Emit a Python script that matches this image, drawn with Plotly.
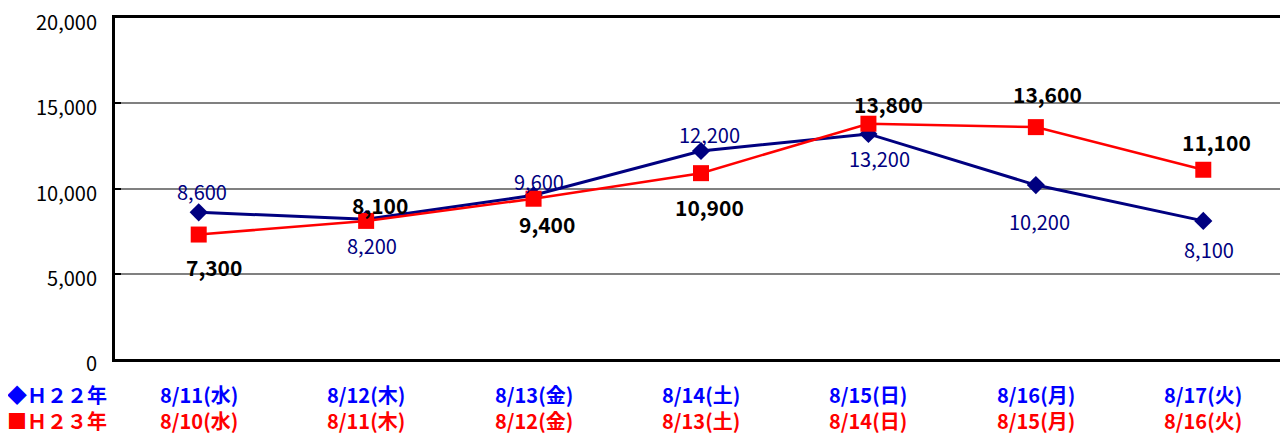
import plotly.graph_objects as go

# Data
h22_dates = ["8/11(水)", "8/12(木)", "8/13(金)", "8/14(土)", "8/15(日)", "8/16(月)", "8/17(火)"]
h23_dates = ["8/10(水)", "8/11(木)", "8/12(金)", "8/13(土)", "8/14(日)", "8/15(月)", "8/16(火)"]
h22_values = [8600, 8200, 9600, 12200, 13200, 10200, 8100]
h23_values = [7300, 8100, 9400, 10900, 13800, 13600, 11100]
h22_name = "◆Ｈ２２年"
h23_name = "■Ｈ２３年"
y_ticks = [0, 5000, 10000, 15000, 20000]

# label offsets (style only)
h22_label_shift = [(3, 21), (6, -26), (5, 14), (8, 16), (11, -25), (4, -36), (6, -29)]
h23_label_shift = [(15, -32), (14, 16), (13, -25), (8, -34), (20, 20), (12, 33), (13, 28)]

FONT = "Noto Sans CJK JP"
NAVY = "#000080"
RED = "#FF0000"
BLUE = "#0000FF"

xs = list(range(len(h22_dates)))

fig = go.Figure()
fig.add_trace(go.Scatter(
    x=xs, y=h22_values, mode="lines+markers", name=h22_name,
    line=dict(color=NAVY, width=3),
    marker=dict(symbol="diamond", size=14, color=NAVY),
))
fig.add_trace(go.Scatter(
    x=xs, y=h23_values, mode="lines+markers", name=h23_name,
    line=dict(color=RED, width=2.5),
    marker=dict(symbol="square", size=16, color=RED),
))

annotations = []
for i, v in enumerate(h22_values):
    dx, dy = h22_label_shift[i]
    annotations.append(dict(x=xs[i], y=v, xref="x", yref="y", text=f"{v:,}",
                            showarrow=False, xanchor="center", yanchor="middle",
                            xshift=dx, yshift=dy, borderpad=0,
                            font=dict(family=FONT, size=20, color=NAVY)))
for i, v in enumerate(h23_values):
    dx, dy = h23_label_shift[i]
    annotations.append(dict(x=xs[i], y=v, xref="x", yref="y", text=f"<b>{v:,}</b>",
                            showarrow=False, xanchor="center", yanchor="middle",
                            xshift=dx, yshift=dy, borderpad=0,
                            font=dict(family=FONT, size=21, color="#000000")))


def two_rows(top, bottom):
    return (f"<span style='color:{BLUE}'><b>{top}</b></span><br>"
            f"<span style='color:{RED}'><b>{bottom}</b></span>")


for i in xs:
    annotations.append(dict(x=i, y=0, xref="x", yref="paper", text=two_rows(h22_dates[i], h23_dates[i]),
                            showarrow=False, xanchor="center", yanchor="middle", yshift=-48,
                            align="center", borderpad=0, font=dict(family=FONT, size=20)))

annotations.append(dict(x=0, y=0, xref="paper", yref="paper", text=two_rows(h22_name, h23_name),
                        showarrow=False, xanchor="left", yanchor="middle", xshift=-109, yshift=-48,
                        align="left", borderpad=0, font=dict(family=FONT, size=20)))

# page has an 8px body margin, so the figure is offset by 8px
fig.update_layout(
    width=1280, height=426,
    margin=dict(l=107, r=1, t=10, b=75),
    paper_bgcolor="white", plot_bgcolor="white",
    showlegend=False,
    annotations=annotations,
    shapes=[dict(type="line", xref="paper", yref="paper", x0=1, x1=1, y0=0, y1=1,
                 line=dict(color="#404040", width=2))],
    xaxis=dict(range=[-0.5, len(xs) - 0.5], showticklabels=False, showgrid=False,
               zeroline=False, showline=True, linecolor="black", linewidth=3,
               mirror=True, ticks="", automargin=False),
    yaxis=dict(range=[0, 20000], tickvals=y_ticks, tickformat=",d",
               showgrid=True, gridcolor="#808080", gridwidth=1.5,
               zeroline=False, showline=True, linecolor="black", linewidth=3,
               ticks="inside", ticklen=6, tickcolor="black", tickwidth=2,
               ticklabelstandoff=11, ticklabelshift=5, ticklabeloverflow="allow",
               automargin=False,
               tickfont=dict(family=FONT, size=20, color="black")),
)

fig.write_html("out.html")
